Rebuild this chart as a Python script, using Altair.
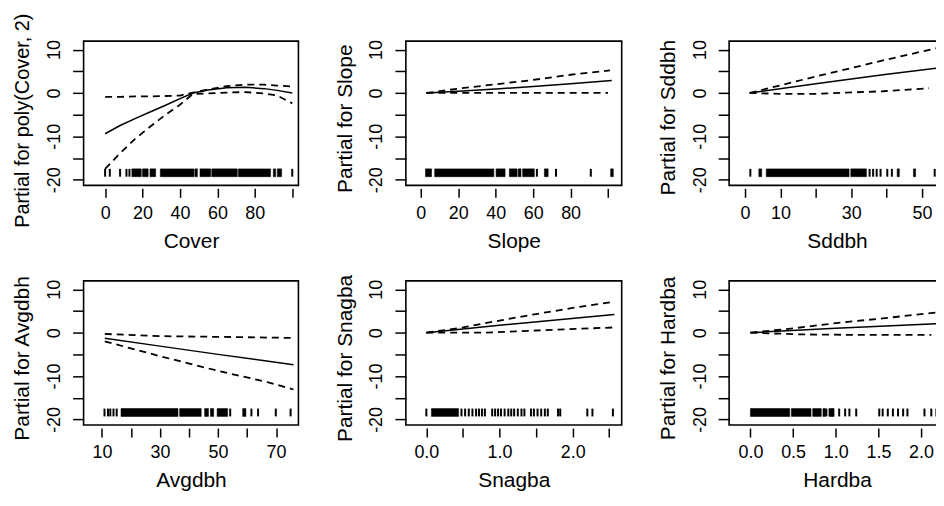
import altair as alt
import pandas as pd

FONT = "Liberation Sans"
Y_DOMAIN = [-21.3, 11.95]
Y_TICKS = [-20, -15, -10, -5, 0, 5, 10]
RUG_LOW, RUG_HIGH = -19.3, -17.5

# ---------------- Cover ----------------
cover_fit_x = [0, 8, 16, 24, 32, 40, 47, 55, 65, 75, 85, 92, 100]
cover_fit_y = [-9.4, -7.5, -5.9, -4.4, -2.9, -1.3, 0.0, 0.7, 1.2, 1.3, 1.0, 0.6, 0.0]
cover_up_y = [-0.9, -0.9, -0.8, -0.8, -0.7, -0.6, 0.1, 0.8, 1.6, 1.9, 1.9, 1.7, 1.5]
cover_lo_y = [-17.5, -13.9, -10.6, -7.8, -5.1, -2.7, -0.2, -0.1, 0.1, 0.2, -0.1, -0.6, -2.4]
cover_rug_ticks = [0, 2.5, 8, 11.4, 13, 100]
cover_rug_blocks = [(14.3, 19.3), (20, 23), (24, 27), (29.5, 47.5), (48, 49.3),
                    (50.7, 56.4), (57, 70.6), (71.2, 88.4), (89.9, 91.1), (92, 94.3)]

# ---------------- Slope ----------------
slope_fit_x = [3, 20, 40, 60, 80, 102]
slope_fit_y = [0, 0.4, 0.9, 1.5, 2.1, 2.9]
slope_up_x = [3, 20, 40, 60, 80, 101]
slope_up_y = [0, 1.0, 2.0, 3.0, 4.2, 5.2]
slope_lo_x = [3, 100]
slope_lo_y = [0, 0]
slope_rug_ticks = [62, 72.2, 90.8]
slope_rug_blocks = [(2.5, 5.7), (7.4, 39), (40.2, 45), (47.3, 51.4), (52, 53.5),
                    (54.4, 60.6), (66, 68), (101.4, 102.8)]

# ---------------- Sddbh ----------------
sddbh_fit_x = [1.3, 20, 39, 54]
sddbh_fit_y = [0, 2.1, 4.2, 5.7]
sddbh_up_x = [1.3, 20, 39, 54]
sddbh_up_y = [0, 3.8, 7.5, 10.3]
sddbh_lo_x = [1.3, 10, 20, 39, 52]
sddbh_lo_y = [0, -0.2, -0.2, 0.4, 1.1]
sddbh_rug_ticks = [1.5, 35.2, 36.2, 37.2, 38.3, 40.2, 41.5, 53.6]
sddbh_rug_blocks = [(3.9, 4.7), (6, 29.4), (29.9, 34.3), (43, 43.6), (47.6, 48.2)]

# ---------------- Avgdbh ----------------
avg_fit_x = [11, 30, 50, 76]
avg_fit_y = [-1.3, -3.1, -5.0, -7.4]
avg_up_x = [11, 30, 55, 75]
avg_up_y = [-0.3, -0.8, -1.0, -1.2]
avg_lo_x = [11, 30.5, 50, 67, 76]
avg_lo_y = [-2.0, -5.5, -8.8, -11.4, -13.1]
avg_rug_ticks = [10.9, 12.1, 12.9, 14.0, 15.1, 54.2, 61.5, 63.8, 69.9, 75]
avg_rug_blocks = [(16.6, 36.2), (36.8, 44.2), (45.4, 46.7), (47.4, 48.5), (49.7, 53.3),
                  (58.5, 59.6)]

# ---------------- Snagba ----------------
snag_fit_x = [0, 1.0, 2.57]
snag_fit_y = [0, 1.7, 4.2]
snag_up_x = [0, 0.5, 1.0, 1.5, 2.0, 2.55]
snag_up_y = [0, 1.2, 2.8, 4.3, 5.7, 7.1]
snag_lo_x = [0, 0.8, 1.5, 2.55]
snag_lo_y = [0, 0.0, 0.5, 1.2]
snag_rug_ticks = [0, 0.48, 0.53, 0.58, 0.63, 0.68, 0.72, 0.76, 0.8, 0.9, 0.94, 0.98,
                  1.02, 1.07, 1.12, 1.16, 1.2, 1.25, 1.3, 1.34, 1.43, 1.47, 1.52, 1.57,
                  1.62, 1.66, 1.8, 1.83, 2.2, 2.27, 2.55]
snag_rug_blocks = [(0.07, 0.44)]

# ---------------- Hardba ----------------
hard_fit_x = [0, 1.0, 2.2]
hard_fit_y = [0, 1.0, 2.1]
hard_up_x = [0, 0.5, 1.0, 1.55, 2.2]
hard_up_y = [0, 1.0, 2.2, 3.3, 4.7]
hard_lo_x = [0, 0.6, 1.2, 2.12]
hard_lo_y = [0, -0.4, -0.5, -0.5]
hard_rug_ticks = [0.89, 0.96, 1.04, 1.11, 1.16, 1.24, 1.51, 1.55, 1.61, 1.67, 1.73,
                  1.79, 1.84, 2.04, 2.12, 2.18]
hard_rug_blocks = [(0, 0.46), (0.48, 0.71), (0.73, 0.83), (0.85, 0.88), (0.92, 0.98)]

H = 145

panels = [
    dict(xtitle="Cover", ytitle="Partial for poly(Cover, 2)", xdom=[-11.5, 103.3],
         xticks=[0, 20, 40, 60, 80, 100], lab="datum.value < 100 ? '' + datum.value : ''",
         fit=(cover_fit_x, cover_fit_y), up=(cover_fit_x, cover_up_y), lo=(cover_fit_x, cover_lo_y),
         ticks=cover_rug_ticks, blocks=cover_rug_blocks, w=216, tfs=20, ty=H / 2 + 7),
    dict(xtitle="Slope", ytitle="Partial for Slope", xdom=[-8, 107.3],
         xticks=[0, 20, 40, 60, 80, 100], lab="datum.value < 100 ? '' + datum.value : ''",
         fit=(slope_fit_x, slope_fit_y), up=(slope_up_x, slope_up_y), lo=(slope_lo_x, slope_lo_y),
         ticks=slope_rug_ticks, blocks=slope_rug_blocks, w=217, tfs=21, ty=H / 2 + 5),
    dict(xtitle="Sddbh", ytitle="Partial for Sddbh", xdom=[-4.5, 56.5],
         xticks=[0, 10, 20, 30, 40, 50],
         lab="indexof([0, 10, 30, 50], datum.value) >= 0 ? '' + datum.value : ''",
         fit=(sddbh_fit_x, sddbh_fit_y), up=(sddbh_up_x, sddbh_up_y), lo=(sddbh_lo_x, sddbh_lo_y),
         ticks=sddbh_rug_ticks, blocks=sddbh_rug_blocks, w=217, tfs=21, ty=H / 2 + 4),
    dict(xtitle="Avgdbh", ytitle="Partial for Avgdbh", xdom=[3.7, 77.7],
         xticks=[10, 20, 30, 40, 50, 60, 70],
         lab="datum.value % 20 === 10 ? '' + datum.value : ''",
         fit=(avg_fit_x, avg_fit_y), up=(avg_up_x, avg_up_y), lo=(avg_lo_x, avg_lo_y),
         ticks=avg_rug_ticks, blocks=avg_rug_blocks, w=216, tfs=21, ty=H / 2 + 5),
    dict(xtitle="Snagba", ytitle="Partial for Snagba", xdom=[-0.28, 2.67],
         xticks=[0, 0.5, 1.0, 1.5, 2.0, 2.5],
         lab="datum.value % 1 === 0 ? format(datum.value, '.1f') : ''",
         fit=(snag_fit_x, snag_fit_y), up=(snag_up_x, snag_up_y), lo=(snag_lo_x, snag_lo_y),
         ticks=snag_rug_ticks, blocks=snag_rug_blocks, w=217, tfs=21, ty=H / 2 + 5),
    dict(xtitle="Hardba", ytitle="Partial for Hardba", xdom=[-0.25, 2.28],
         xticks=[0, 0.5, 1.0, 1.5, 2.0],
         lab="format(datum.value, '.1f')",
         fit=(hard_fit_x, hard_fit_y), up=(hard_up_x, hard_up_y), lo=(hard_lo_x, hard_lo_y),
         ticks=hard_rug_ticks, blocks=hard_rug_blocks, w=217, tfs=21, ty=H / 2 + 5),
]


def make_panel(p):
    xs = alt.Scale(domain=p["xdom"], nice=False, zero=False)
    ys = alt.Scale(domain=Y_DOMAIN, nice=False, zero=False)
    xaxis = alt.Axis(values=p["xticks"], labelExpr=p["lab"], title=p["xtitle"], grid=False,
                     domain=False, tickSize=9, tickWidth=1.5, tickColor="black", offset=3,
                     labelFontSize=18, labelColor="black", labelFont=FONT, labelPadding=7,
                     labelFlush=False, labelOverlap=False, titleFontSize=21,
                     titleFontWeight="normal", titleColor="black", titleFont=FONT,
                     titleY=59, titleBaseline="alphabetic")
    yaxis = alt.Axis(values=Y_TICKS, labelExpr="datum.value % 10 === 0 ? '' + datum.value : ''",
                     title=p["ytitle"], grid=False, domain=False, tickSize=11, tickWidth=1.5,
                     tickColor="black", labelFontSize=18, labelColor="black", labelFont=FONT,
                     labelAngle=270, labelAlign="center", labelBaseline="bottom",
                     labelPadding=9, labelFlush=False, labelOverlap=False,
                     titleFontSize=p["tfs"], titleFontWeight="normal", titleColor="black",
                     titleFont=FONT, titleAngle=270, titleX=-61, titleY=p["ty"],
                     titleAlign="center", titleBaseline="middle")
    fit_df = pd.DataFrame({"x": p["fit"][0], "y": p["fit"][1]})
    band_df = pd.concat([
        pd.DataFrame({"x": p["up"][0], "y": p["up"][1], "s": "upper"}),
        pd.DataFrame({"x": p["lo"][0], "y": p["lo"][1], "s": "lower"}),
    ])
    tick_df = pd.DataFrame({"x": p["ticks"]})
    block_df = pd.DataFrame({"x0": [b[0] for b in p["blocks"]], "x1": [b[1] for b in p["blocks"]]})

    fit = alt.Chart(fit_df).mark_line(color="black", strokeWidth=1.5).encode(
        x=alt.X("x:Q", scale=xs, axis=xaxis), y=alt.Y("y:Q", scale=ys, axis=yaxis))
    band = alt.Chart(band_df).mark_line(color="black", strokeWidth=1.8, strokeDash=[7, 5]).encode(
        x=alt.X("x:Q", scale=xs, axis=xaxis), y=alt.Y("y:Q", scale=ys, axis=yaxis), detail="s:N")
    rug_t = alt.Chart(tick_df).mark_rule(color="black", strokeWidth=2).encode(
        x=alt.X("x:Q", scale=xs, axis=xaxis),
        y=alt.YDatum(RUG_LOW, axis=yaxis), y2=alt.Y2Datum(RUG_HIGH))
    rug_b = alt.Chart(block_df).mark_rect(color="black", stroke="black", strokeWidth=0.6,
                                          opacity=1).encode(
        x=alt.X("x0:Q", scale=xs, axis=xaxis), x2="x1:Q",
        y=alt.YDatum(RUG_LOW, axis=yaxis), y2=alt.Y2Datum(RUG_HIGH))
    return alt.layer(fit, band, rug_t, rug_b).properties(width=p["w"], height=H)


chart = alt.concat(*[make_panel(p) for p in panels], columns=3,
                   spacing={"row": 96, "column": 108}, bounds="flush",
                   padding={"left": 3, "top": 2, "right": -10, "bottom": 3}
                   ).configure(background="white", font=FONT
                   ).configure_view(stroke="black", strokeWidth=1.6)

chart.save("out.html", embed_options={"renderer": "svg", "actions": False})
